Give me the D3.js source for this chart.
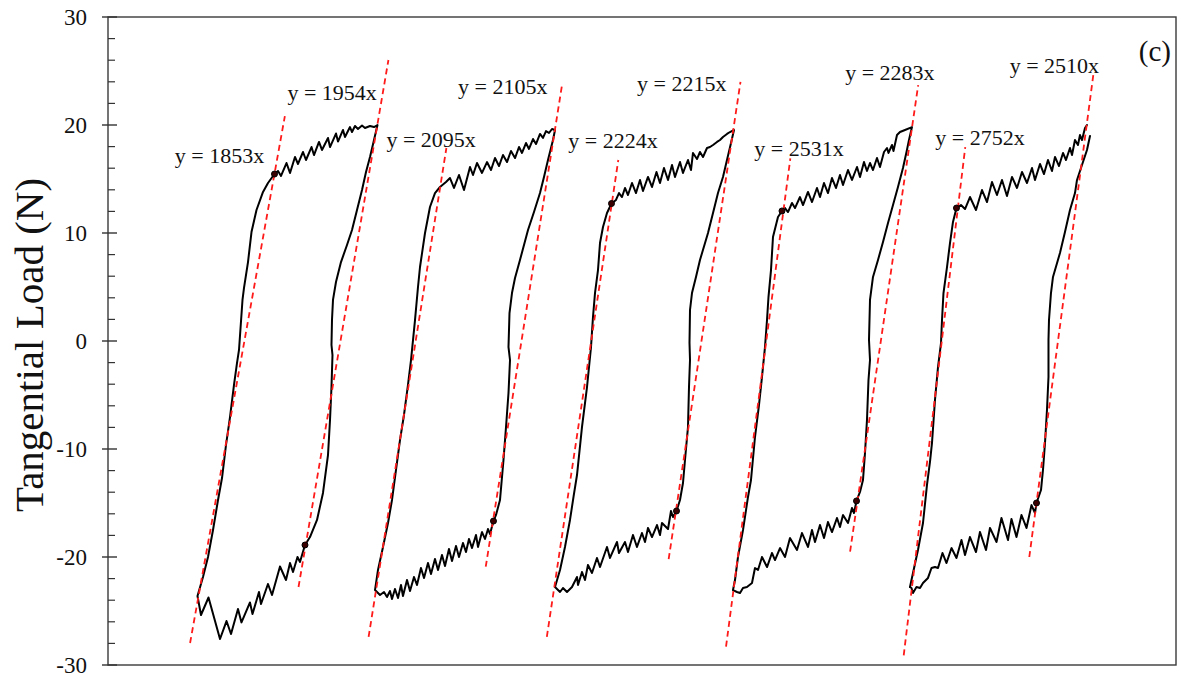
<!DOCTYPE html>
<html><head><meta charset="utf-8">
<script src="https://cdn.jsdelivr.net/npm/d3@7"></script>
<style>html,body{margin:0;padding:0;background:#fff;} svg{display:block;}</style>
</head><body>
<svg id="chart" width="1181" height="681"></svg>
<script>
// ---- data (x: displacement in µm, y: tangential load in N) ----
const yTicks = [-30, -20, -10, 0, 10, 20, 30];
const yMinorTicks = [-28,-26,-24,-22,-18,-16,-14,-12,-8,-6,-4,-2,2,4,6,8,12,14,16,18,22,24,26,28];

const loop1 = [
[24.86,-23.61],[26.39,-21.85],[27.78,-20.0],[29.17,-17.5],[30.56,-14.72],[31.67,-12.69],[32.78,-9.63],[33.89,-7.04],[35.0,-4.07],[35.83,-2.04],[36.39,-0.83],[37.36,3.80],[37.78,4.91],[38.89,7.31],[39.86,10.09],[41.25,12.13],[43.06,13.80],[44.44,14.63],[46.25,15.46],
[47.22,15.74],[48.06,15.28],[49.58,16.48],[50.56,15.56],[51.94,17.04],[52.78,16.39],[54.17,17.5],[55.0,16.76],[56.53,17.96],[57.22,17.22],[58.61,18.43],[59.44,17.69],[61.11,18.80],[61.67,17.96],[63.33,19.21],[63.89,18.47],[65.28,19.54],[65.83,18.89],[67.22,19.81],[67.78,19.35],[68.61,19.91],[69.44,19.63],[70.56,19.95],[71.39,19.72],[72.78,19.91],[73.89,19.81],[74.86,20.0],
[73.89,18.61],[72.78,17.04],[71.67,15.65],[70.56,13.98],[69.17,12.13],[67.78,10.28],[66.39,8.89],[64.72,7.31],[63.33,5.46],[62.5,3.80],[62.22,1.94],[62.08,-0.37],[62.36,-1.30],[62.08,-4.26],[61.67,-7.31],[61.11,-10.56],[59.72,-14.07],[58.06,-16.57],[56.11,-18.15],[54.72,-18.89],
[53.33,-20.46],[52.64,-20.0],[51.39,-21.39],[50.56,-20.56],[49.44,-22.13],[47.78,-20.88],[45.56,-23.52],[44.44,-22.5],[42.5,-24.35],[41.94,-23.24],[40.14,-25.28],[39.44,-24.21],[37.08,-26.06],[36.11,-24.81],[34.17,-27.13],[32.92,-25.93],[31.11,-27.59],[27.92,-23.75],[25.83,-25.37],[24.86,-23.61]
];
const loop2 = [
[74.17,-23.06],[75.0,-21.20],[76.39,-19.07],[77.78,-16.85],[78.89,-14.72],[80.0,-11.94],[81.11,-9.17],[82.22,-6.85],[83.33,-4.07],[84.17,-1.76],[85.28,1.94],[86.11,5.0],[86.67,6.85],[88.06,10.0],[89.44,12.41],[90.83,13.70],[92.22,14.26],[93.89,14.72],
[95.0,15.09],[96.11,14.17],[97.5,15.37],[98.89,13.98],[100.56,16.11],[101.39,15.37],[102.5,16.48],[103.89,15.56],[105.28,16.57],[106.39,15.83],[107.5,16.94],[108.61,16.20],[109.72,17.22],[110.83,16.57],[111.94,17.59],[113.06,16.94],[114.17,17.96],[115.0,17.41],[116.11,18.33],[116.94,17.78],[118.06,18.70],[118.89,18.24],[120.0,19.17],[120.83,18.80],[121.67,19.44],[122.5,19.26],[123.33,19.63],[124.17,19.54],
[123.61,18.61],[122.22,16.76],[121.11,15.19],[120.0,13.70],[118.33,11.94],[116.67,10.28],[114.44,7.5],[113.06,5.83],[112.22,4.44],[111.53,2.59],[111.25,-0.56],[111.67,-1.76],[111.25,-4.81],[110.56,-7.96],[109.86,-11.02],[108.89,-14.72],[107.78,-16.11],[107.08,-16.67],
[106.11,-17.87],[105.56,-17.41],[104.72,-18.33],[103.89,-17.69],[102.78,-19.07],[102.22,-17.96],[101.11,-19.17],[100.28,-18.33],[99.44,-19.54],[98.61,-18.70],[97.5,-20.0],[96.67,-18.98],[95.56,-20.37],[94.72,-19.26],[93.61,-20.83],[92.78,-19.81],[91.67,-21.20],[90.83,-20.19],[89.72,-21.57],[88.89,-20.56],[87.78,-21.94],[86.94,-21.02],[85.83,-22.59],[85.0,-21.85],[83.89,-23.15],[83.06,-22.13],[81.94,-23.61],[81.39,-22.59],[80.56,-23.80],[79.72,-22.96],[78.89,-23.89],[78.33,-23.15],[77.5,-23.70],[76.67,-23.24],[75.56,-23.52],[74.17,-23.06]
];
const loop3 = [
[124.17,-22.78],[125.56,-21.20],[126.94,-19.07],[128.33,-16.57],[129.31,-14.44],[130.28,-12.41],[131.67,-7.96],[133.06,-4.26],[134.17,-0.56],[134.72,2.22],[135.28,4.44],[136.11,6.57],[136.67,9.07],[137.5,10.56],[138.61,11.85],[139.86,12.73],
[141.11,13.06],[141.94,13.70],[142.78,13.33],[143.61,14.17],[144.44,13.52],[145.56,14.63],[146.67,13.70],[147.78,14.91],[148.61,13.89],[150.0,15.19],[151.11,14.26],[152.36,15.65],[153.33,14.63],[154.44,16.02],[155.56,14.91],[156.67,16.30],[157.5,15.19],[158.89,16.57],[159.72,15.56],[161.11,16.76],[161.94,15.83],[162.5,17.41],[163.61,16.85],[164.44,17.5],[165.28,17.04],[166.39,17.87],[167.22,17.96],[168.06,18.15],[169.17,18.43],[170.0,18.61],[170.83,18.89],[171.94,19.17],[172.78,19.35],[173.89,19.54],
[173.06,18.33],[171.94,16.76],[170.83,15.19],[169.44,13.70],[168.06,11.85],[166.67,10.0],[164.44,7.5],[163.33,5.93],[162.22,4.44],[161.67,2.87],[161.53,-0.19],[161.67,-1.76],[161.39,-4.26],[161.11,-7.96],[160.28,-11.02],[159.72,-13.15],[158.89,-14.72],[157.92,-15.74],
[156.94,-16.30],[156.39,-15.74],[155.56,-17.41],[153.89,-16.85],[153.33,-17.96],[152.5,-17.04],[151.11,-18.15],[150.0,-17.31],[149.17,-18.61],[148.33,-17.78],[146.94,-19.07],[145.83,-17.96],[144.44,-19.54],[143.61,-18.61],[141.94,-19.63],[141.39,-18.61],[139.44,-20.09],[138.61,-19.07],[136.67,-20.93],[135.83,-20.09],[134.44,-21.48],[133.33,-20.74],[132.5,-22.13],[131.67,-21.39],[130.56,-22.59],[130.28,-21.85],[128.89,-22.78],[127.5,-23.24],[126.39,-22.87],[125.56,-23.24],[124.17,-22.78]
];
const loop4 = [
[173.61,-23.06],[174.17,-22.13],[175.0,-20.0],[176.39,-17.5],[177.78,-14.44],[178.61,-12.87],[179.72,-8.89],[180.83,-5.93],[181.67,-3.33],[182.5,-0.56],[183.06,1.94],[183.47,4.07],[184.17,6.57],[184.72,9.63],[186.11,11.48],[187.22,12.04],
[188.06,12.31],[188.89,11.94],[190.0,12.78],[190.83,12.31],[192.22,13.33],[193.06,12.59],[194.44,13.80],[195.56,12.87],[196.94,14.17],[197.78,13.33],[198.89,14.63],[200.0,13.70],[201.11,15.09],[202.22,14.17],[203.33,15.37],[204.17,14.44],[205.56,15.83],[206.67,14.91],[208.06,16.11],[208.89,15.19],[210.0,16.57],[210.83,15.74],[211.67,16.48],[212.5,15.83],[213.61,16.94],[214.44,16.11],[215.56,17.5],[216.39,17.87],[216.81,17.41],[217.78,18.15],[218.19,17.59],[219.17,19.07],[220.0,19.35],[221.39,19.54],[223.33,19.81],
[222.5,18.61],[221.81,17.5],[220.83,16.02],[219.44,14.26],[218.06,12.59],[216.67,10.93],[215.28,9.17],[213.89,7.5],[212.5,5.93],[211.67,3.80],[211.39,0.09],[211.67,-1.76],[211.25,-3.61],[210.83,-7.31],[210.28,-10.37],[209.72,-12.87],[208.89,-13.98],[207.92,-14.81],
[207.22,-15.93],[206.67,-15.46],[205.56,-16.85],[204.17,-16.11],[203.33,-17.22],[202.5,-16.39],[201.11,-17.69],[200.0,-16.76],[198.89,-18.24],[197.78,-17.04],[196.39,-18.61],[195.56,-17.5],[194.44,-19.07],[192.78,-17.78],[191.39,-19.35],[189.44,-18.24],[188.06,-20.0],[186.67,-19.17],[185.28,-20.28],[184.44,-19.63],[183.06,-20.93],[181.67,-20.0],[180.56,-21.20],[179.72,-21.02],[178.89,-22.41],[177.5,-22.78],[176.39,-22.87],[175.56,-23.33],[174.72,-23.24],[173.61,-23.06]
];
// loop 5 is drawn as two strokes (small break at the top-right corner)
const loop5Loading = [
[222.78,-22.78],[223.61,-21.48],[225.0,-19.35],[226.39,-16.85],[227.5,-13.33],[228.33,-11.20],[228.89,-9.44],[229.72,-5.46],[230.56,-2.41],[231.39,-0.19],[231.67,1.94],[232.08,4.44],[233.06,6.85],[233.89,9.07],[234.72,11.02],[235.69,12.31],
[236.94,12.59],[238.06,12.22],[239.44,13.33],[241.11,12.13],[242.78,13.98],[244.17,12.87],[245.56,14.72],[246.94,13.52],[248.33,14.91],[249.72,13.43],[251.11,15.19],[252.5,14.17],[253.89,15.65],[255.28,14.63],[256.67,16.02],[257.5,14.91],[258.89,16.39],[260.0,15.46],[261.11,16.76],[262.22,15.74],[263.06,17.04],[264.17,16.20],[265.28,17.41],[266.11,16.76],[267.22,17.87],[267.78,17.22],[268.61,18.61],[269.44,18.15],[270.0,19.07],[270.56,18.61],[271.39,19.72],[271.94,20.0]
];
const loop5Unloading = [
[272.78,18.98],[271.94,17.69],[270.83,16.57],[269.17,14.91],[268.61,13.70],[267.22,12.13],[265.83,10.09],[264.44,8.15],[262.5,5.93],[261.94,4.44],[261.39,1.94],[261.25,0.09],[261.25,-3.33],[260.83,-6.39],[260.28,-9.44],[259.72,-11.94],[259.17,-13.80],[257.92,-15.0],
[257.5,-15.93],[256.53,-15.19],[255.14,-17.31],[253.75,-16.11],[252.36,-18.15],[250.97,-16.48],[250.0,-18.43],[248.19,-16.39],[246.81,-18.61],[245.0,-17.31],[243.89,-19.35],[242.22,-17.69],[241.11,-19.54],[239.44,-18.15],[238.06,-19.81],[237.08,-18.43],[235.69,-20.09],[234.31,-19.17],[232.92,-20.56],[231.81,-19.63],[230.56,-21.02],[229.72,-20.93],[228.75,-21.02],[227.78,-21.94],[226.39,-22.41],[225.56,-22.87],[224.58,-22.78],[223.61,-23.33],[223.19,-22.87],[222.78,-22.78]
];

// knee points marked on the loops
const kneePoints = [[46.25,15.46],[54.72,-18.89],[107.08,-16.67],[139.86,12.73],[157.92,-15.74],[187.22,12.04],[207.92,-14.81],[235.69,12.31],[257.92,-15.0]];

// linear fits y = k x (k in N/mm), each passing y = 0 at fitZeroX (µm)
const fitSlopes = [1853, 1954, 2095, 2105, 2224, 2215, 2531, 2283, 2752, 2510];
const fitZeroX  = [37.89, 64.58, 85.47, 114.86, 134.22, 164.86, 182.86, 214.68, 231.61, 263.89];
const fitLow    = [-27.96, -22.78, -27.4, -20.9, -27.4, -20.2, -28.3, -19.5, -29.1, -20.0];
const fitHigh   = [20.83, 26.02, 17.87, 23.7, 16.76, 24.0, 16.9, 23.7, 17.96, 24.9];

const yTitle = "Tangential Load (N)";
const panelTag = "(c)";

// ---- layout ----
const M = {left: 108, right: 1176, top: 17, bottom: 665};
const labelOffsets = [[-110,47],[-101,40],[-60,-1],[-104,9],[-50,-12],[-103.5,9],[-36,-2],[-73,-5],[-30,-2],[-84,1]];
const FONT = "'Liberation Serif','Times New Roman',Times,serif";

const svg = d3.select("#chart");
const x = d3.scaleLinear().domain([0, 296.67]).range([M.left, M.right]);
const y = d3.scaleLinear().domain([-30, 30]).range([M.bottom, M.top]);

// frame
svg.append("rect")
  .attr("x", x(0)).attr("y", y(30))
  .attr("width", x(296.67) - x(0)).attr("height", y(-30) - y(30))
  .attr("fill", "none").attr("stroke", "#3a3a3a").attr("stroke-width", 1.4);

// y axis labels
const yAxis = d3.axisLeft(y).tickValues(yTicks).tickSize(0).tickPadding(21).tickFormat(d => String(d));
const gAxis = svg.append("g").attr("transform", `translate(${M.left},0)`).call(yAxis);
gAxis.select(".domain").remove();
gAxis.selectAll("text").attr("font-family", FONT).attr("font-size", 23).attr("fill", "#111");

// ticks
svg.append("g").selectAll("line").data(yTicks).join("line")
  .attr("x1", M.left - 6).attr("x2", M.left + 9)
  .attr("y1", d => y(d)).attr("y2", d => y(d))
  .attr("stroke", "#333").attr("stroke-width", 1.4);
svg.append("g").selectAll("line").data(yMinorTicks).join("line")
  .attr("x1", M.left).attr("x2", M.left + 7)
  .attr("y1", d => y(d)).attr("y2", d => y(d))
  .attr("stroke", "#333").attr("stroke-width", 1.2);

// axis title
svg.append("text")
  .attr("transform", `translate(43,${(M.top + M.bottom) / 2 + 4}) rotate(-90)`)
  .attr("text-anchor", "middle")
  .attr("font-family", FONT).attr("font-size", 41).attr("fill", "#111")
  .text(yTitle);

// panel tag
svg.append("text")
  .attr("x", 1171).attr("y", 61)
  .attr("text-anchor", "end")
  .attr("font-family", FONT).attr("font-size", 29).attr("fill", "#111")
  .text(panelTag);

// fit lines
const fits = fitSlopes.map((k, i) => {
  const xAt = v => fitZeroX[i] + 1000 * v / k;
  return {k, pts: [[xAt(fitLow[i]), fitLow[i]], [xAt(fitHigh[i]), fitHigh[i]]], label: `y = ${k}x`, off: labelOffsets[i]};
});

const line = d3.line().x(d => x(d[0])).y(d => y(d[1]));

// loops
const loops = [loop1, loop2, loop3, loop4, loop5Loading, loop5Unloading];
svg.append("g").selectAll("path").data(loops).join("path")
  .attr("d", line)
  .attr("fill", "none").attr("stroke", "#000").attr("stroke-width", 2)
  .attr("stroke-linejoin", "round").attr("stroke-linecap", "round");

svg.append("g").selectAll("path").data(fits).join("path")
  .attr("d", d => line(d.pts))
  .attr("fill", "none").attr("stroke", "#ff1a1a").attr("stroke-width", 1.8)
  .attr("stroke-dasharray", "6,4");

// knee markers
svg.append("g").selectAll("circle").data(kneePoints).join("circle")
  .attr("cx", d => x(d[0])).attr("cy", d => y(d[1])).attr("r", 3)
  .attr("fill", "#3a0000").attr("stroke", "#000").attr("stroke-width", 1);

// fit labels
svg.append("g").selectAll("text").data(fits).join("text")
  .attr("x", d => x(d.pts[1][0]) + d.off[0])
  .attr("y", d => y(d.pts[1][1]) + d.off[1])
  .attr("font-family", FONT).attr("font-size", 22).attr("fill", "#111")
  .text(d => d.label);
</script>
</body></html>
